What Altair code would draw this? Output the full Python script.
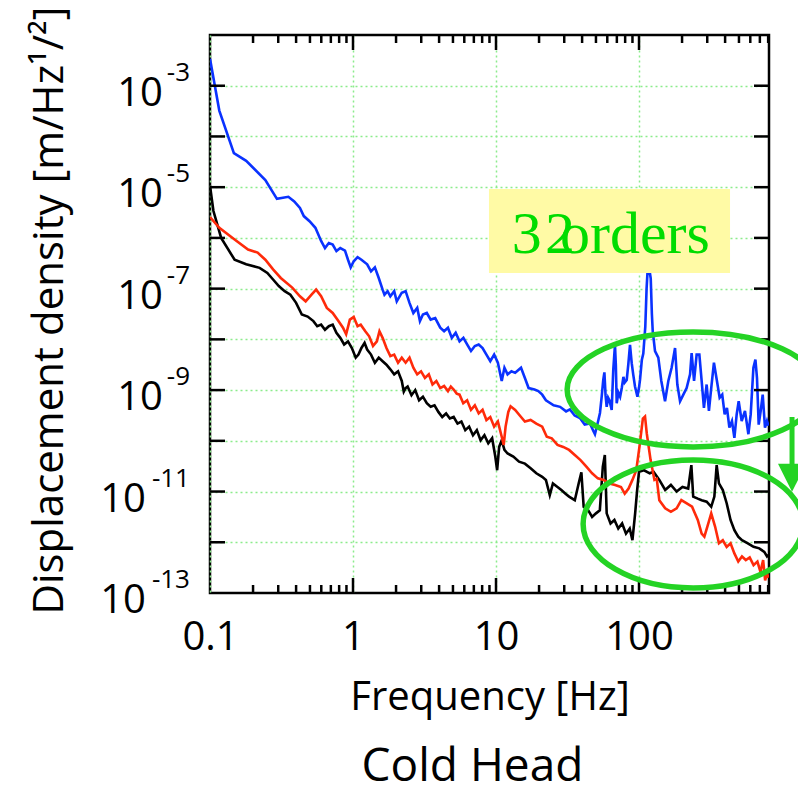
import altair as alt
import pandas as pd

# ---------------- values (log10 of Hz, log10 of m/Hz^1/2) ----------------
blue_logf = [-1.0, -0.935, -0.833, -0.747, -0.613, -0.532, -0.452, -0.411, -0.371, -0.344,
             -0.304, -0.263, -0.223, -0.196, -0.169, -0.142, -0.116, -0.089, -0.056, -0.035,
             -0.016, 0.005, 0.032, 0.059, 0.099, 0.126, 0.153, 0.180, 0.207, 0.220,
             0.242, 0.261, 0.288, 0.306, 0.341, 0.368, 0.395, 0.422, 0.449, 0.468,
             0.489, 0.516, 0.543, 0.575, 0.610, 0.637, 0.664, 0.691, 0.718, 0.745,
             0.772, 0.798, 0.825, 0.852, 0.879, 0.906, 0.933, 0.960, 0.987, 1.013,
             1.040, 1.059, 1.081, 1.108, 1.134, 1.175, 1.202, 1.228, 1.269, 1.296,
             1.323, 1.349, 1.403, 1.448, 1.490, 1.517, 1.550, 1.587, 1.620, 1.657,
             1.680, 1.692, 1.716, 1.727, 1.739, 1.750, 1.758, 1.766, 1.774, 1.784,
             1.793, 1.809, 1.820, 1.832, 1.838, 1.844, 1.856, 1.868, 1.880, 1.891,
             1.900, 1.914, 1.925, 1.937, 1.949, 1.960, 1.972, 1.989, 2.000, 2.007,
             2.020, 2.030, 2.044, 2.053, 2.062, 2.070, 2.082, 2.090, 2.096, 2.112,
             2.135, 2.156, 2.182, 2.205, 2.228, 2.252, 2.268, 2.287, 2.310, 2.333,
             2.357, 2.368, 2.385, 2.403, 2.422, 2.438, 2.454, 2.473, 2.489, 2.505,
             2.524, 2.545, 2.564, 2.582, 2.599, 2.615, 2.632, 2.650, 2.667, 2.683,
             2.697, 2.718, 2.741, 2.765, 2.781, 2.800, 2.814, 2.825, 2.837, 2.851,
             2.865, 2.881, 2.895, 2.905]
blue_logv = [-2.47, -3.49, -4.33, -4.48, -4.86, -5.23, -5.19, -5.28, -5.41, -5.57,
             -5.67, -5.80, -6.06, -6.20, -6.10, -6.13, -6.26, -6.20, -6.25, -6.43,
             -6.58, -6.46, -6.38, -6.43, -6.52, -6.66, -6.58, -6.79, -7.02, -7.12,
             -7.05, -7.15, -7.05, -7.25, -7.08, -7.05, -7.28, -7.48, -7.38, -7.64,
             -7.51, -7.48, -7.61, -7.58, -7.77, -7.84, -7.77, -7.97, -7.87, -8.04,
             -7.97, -8.10, -8.23, -8.13, -8.10, -8.17, -8.30, -8.43, -8.30, -8.46,
             -8.82, -8.56, -8.69, -8.63, -8.66, -8.56, -8.76, -8.96, -8.99, -9.02,
             -9.09, -9.20, -9.30, -9.33, -9.42, -9.38, -9.50, -9.55, -9.68, -9.66,
             -9.80, -9.87, -9.59, -9.45, -9.13, -8.80, -8.65, -9.10, -9.33, -9.15,
             -9.20, -9.39, -8.60, -8.11, -8.50, -9.26, -9.05, -9.13, -8.95, -8.74,
             -8.85, -8.80, -8.50, -8.11, -8.47, -8.70, -8.93, -9.13, -8.95, -8.80,
             -8.40, -8.28, -7.75, -7.00, -6.55, -6.58, -6.80, -7.50, -7.84, -8.23,
             -8.36, -8.82, -9.22, -8.82, -8.56, -8.17, -8.89, -9.22, -9.09, -8.96,
             -8.69, -8.27, -8.82, -8.30, -8.30, -8.82, -9.35, -8.89, -9.41, -8.96,
             -8.46, -8.82, -9.15, -9.09, -9.48, -9.35, -9.74, -9.61, -9.94, -9.48,
             -9.22, -9.61, -9.41, -9.87, -9.48, -8.56, -8.40, -8.76, -9.68, -9.41,
             -9.09, -9.74, -9.61, -9.70]

red_logf = [-1.0, -0.935, -0.828, -0.734, -0.667, -0.613, -0.559, -0.505, -0.425, -0.371,
            -0.331, -0.290, -0.258, -0.223, -0.183, -0.142, -0.102, -0.070, -0.048, -0.022,
            0.005, 0.032, 0.054, 0.086, 0.113, 0.140, 0.167, 0.185, 0.207, 0.234,
            0.261, 0.288, 0.315, 0.341, 0.368, 0.395, 0.422, 0.449, 0.476, 0.503,
            0.530, 0.556, 0.583, 0.610, 0.637, 0.664, 0.684, 0.704, 0.725, 0.745,
            0.771, 0.798, 0.825, 0.852, 0.879, 0.906, 0.933, 0.960, 0.987, 1.013,
            1.040, 1.054, 1.067, 1.086, 1.102, 1.134, 1.175, 1.202, 1.242, 1.282,
            1.323, 1.355, 1.390, 1.430, 1.470, 1.511, 1.551, 1.591, 1.632, 1.672,
            1.712, 1.753, 1.793, 1.833, 1.874, 1.900, 1.927, 1.954, 1.981, 2.003,
            2.027, 2.042, 2.054, 2.081, 2.108, 2.124, 2.142, 2.183, 2.223, 2.263,
            2.296, 2.331, 2.371, 2.411, 2.438, 2.457, 2.478, 2.505, 2.532, 2.559,
            2.586, 2.613, 2.640, 2.667, 2.694, 2.720, 2.747, 2.774, 2.801, 2.828,
            2.849, 2.868, 2.882, 2.895, 2.905]
red_logv = [-5.59, -5.80, -6.03, -6.23, -6.29, -6.43, -6.62, -6.79, -6.98, -7.15,
            -7.25, -7.12, -7.02, -7.15, -7.38, -7.48, -7.64, -7.77, -7.90, -7.61,
            -7.56, -7.74, -7.71, -7.84, -7.94, -8.13, -8.04, -7.84, -7.97, -8.17,
            -8.33, -8.30, -8.46, -8.36, -8.46, -8.36, -8.56, -8.69, -8.63, -8.76,
            -8.69, -8.89, -8.82, -8.96, -8.92, -9.02, -8.93, -8.99, -9.07, -9.09,
            -9.26, -9.20, -9.39, -9.30, -9.46, -9.39, -9.59, -9.53, -9.72, -9.62,
            -9.92, -10.08, -9.72, -9.43, -9.32, -9.39, -9.53, -9.62, -9.59, -9.66,
            -9.72, -9.92, -9.95, -10.08, -10.12, -10.18, -10.28, -10.38, -10.51, -10.64,
            -10.74, -10.77, -10.84, -10.87, -10.91, -11.04, -10.94, -10.77, -10.58, -10.12,
            -9.56, -9.52, -9.85, -10.38, -10.77, -10.75, -11.17, -11.33, -11.40, -11.33,
            -11.17, -11.23, -11.30, -11.56, -11.83, -11.89, -11.69, -11.43, -11.69, -12.02,
            -11.96, -12.09, -12.02, -12.22, -12.38, -12.28, -12.35, -12.30, -12.45, -12.38,
            -12.58, -12.35, -12.75, -12.61, -12.70]

black_logf = [-1.0, -0.976, -0.922, -0.828, -0.747, -0.653, -0.599, -0.559, -0.519, -0.478,
              -0.438, -0.398, -0.358, -0.317, -0.277, -0.250, -0.223, -0.196, -0.169, -0.142,
              -0.116, -0.089, -0.062, -0.035, -0.008, 0.019, 0.038, 0.059, 0.081, 0.099,
              0.126, 0.153, 0.180, 0.207, 0.234, 0.261, 0.288, 0.315, 0.341, 0.355,
              0.368, 0.382, 0.409, 0.435, 0.462, 0.489, 0.516, 0.543, 0.570, 0.597,
              0.624, 0.651, 0.677, 0.704, 0.731, 0.758, 0.785, 0.812, 0.839, 0.866,
              0.892, 0.919, 0.946, 0.973, 0.995, 1.008, 1.022, 1.040, 1.059, 1.081,
              1.121, 1.161, 1.202, 1.242, 1.282, 1.323, 1.349, 1.376, 1.398, 1.430,
              1.457, 1.484, 1.511, 1.551, 1.578, 1.597, 1.613, 1.645, 1.672, 1.699,
              1.726, 1.747, 1.761, 1.774, 1.801, 1.828, 1.855, 1.882, 1.909, 1.935,
              1.954, 1.973, 1.987, 2.000, 2.035, 2.075, 2.102, 2.142, 2.183, 2.223,
              2.263, 2.304, 2.344, 2.366, 2.379, 2.411, 2.438, 2.473, 2.505, 2.527,
              2.543, 2.559, 2.586, 2.613, 2.640, 2.667, 2.694, 2.720, 2.761, 2.801,
              2.841, 2.876, 2.895, 2.905]
black_logv = [-4.97, -5.47, -6.00, -6.43, -6.52, -6.59, -6.69, -6.82, -6.95, -7.05,
              -7.12, -7.28, -7.51, -7.55, -7.64, -7.74, -7.71, -7.81, -7.74, -7.71,
              -7.87, -7.97, -8.10, -8.04, -8.17, -8.36, -8.30, -8.17, -8.07, -8.20,
              -8.30, -8.46, -8.36, -8.43, -8.50, -8.59, -8.69, -8.63, -8.82, -9.03,
              -8.96, -8.93, -9.10, -9.00, -9.20, -9.13, -9.26, -9.33, -9.30, -9.43,
              -9.53, -9.46, -9.56, -9.53, -9.66, -9.62, -9.79, -9.72, -9.89, -9.79,
              -9.99, -9.89, -10.05, -9.95, -10.31, -10.58, -10.12, -9.99, -10.18, -10.25,
              -10.31, -10.41, -10.45, -10.54, -10.64, -10.71, -10.77, -11.07, -10.84, -10.91,
              -10.97, -11.04, -11.10, -11.17, -10.84, -10.62, -11.30, -11.37, -11.50, -11.43,
              -11.37, -10.51, -10.28, -11.43, -11.63, -11.56, -11.73, -11.63, -11.83, -11.73,
              -11.96, -11.43, -10.97, -10.61, -10.58, -10.64, -10.61, -10.77, -10.97, -10.87,
              -11.00, -10.91, -10.94, -10.48, -11.10, -11.14, -11.17, -11.20, -11.30, -11.10,
              -10.48, -10.84, -10.97, -11.23, -11.56, -11.76, -11.89, -11.96, -12.02, -12.09,
              -12.12, -12.19, -12.28, -12.25]

series_names = ["black", "red", "blue"]
series_colors = ["#000000", "#ff2a0a", "#0a32ff"]

x_label_values = [0.1, 1, 10, 100]
x_major_ticks = [1, 10, 100]
x_minor_ticks = [0.2, 0.3, 0.4, 0.5, 0.6, 0.7, 0.8, 0.9,
                 2, 3, 4, 5, 6, 7, 8, 9,
                 20, 30, 40, 50, 60, 70, 80, 90,
                 200, 300, 400, 500, 600, 700, 800]
y_decades = [1e-12, 1e-11, 1e-10, 1e-9, 1e-8, 1e-7, 1e-6, 1e-5, 1e-4, 1e-3]
y_label_exponents = [-3, -5, -7, -9, -11, -13]

box_f = [8.93, 433.0]
box_v = [9.2e-6, 2.04e-7]
note_texts = ["3", "2", "orders"]
note_f = [12.9, 22.0, 28.0]
note_v = [5.05e-7, 5.05e-7, 5.05e-7]
ellipse_f = [239.0, 239.0]
ellipse_v = [1.03e-9, 2.3e-12]
arrow_f = [1175.0]
arrow_v = [2.95e-10, 3.3e-11]
arrow_head_v = [1.86e-11]

# ---------------- styling ----------------
W, H = 559, 558
FONT = "Open Sans"
GREEN = "#24d324"
GRID = "#8cec8c"
xs = alt.Scale(type="log", domain=[0.1, 811], nice=False)
ys = alt.Scale(type="log", domain=[1e-13, 1e-2], nice=False)

x_axis = alt.Axis(values=x_label_values, format="~g", grid=True, gridColor=GRID,
                  gridDash=[2, 3], gridWidth=1.5, domain=False, ticks=False, tickSize=0,
                  labelFont=FONT, labelFontSize=40, labelColor="black", labelPadding=24,
                  labelFlush=False, labelOverlap=False,
                  title="Frequency [Hz]", titleFont=FONT, titleFontSize=40,
                  titleFontWeight="normal", titleColor="black", titlePadding=20)
y_axis = alt.Axis(values=y_decades, grid=True, gridColor=GRID, gridDash=[2, 3],
                  gridWidth=1.5, domain=False, ticks=False, tickSize=0, labels=False,
                  title="Displacement density [m/Hz¹/²]", titleFont=FONT, titleFontSize=42,
                  titleFontWeight="normal", titleColor="black", titleAngle=270,
                  titleX=-148, titleY=275, titleAlign="center", titleBaseline="alphabetic")


def X(field):
    return alt.X(field, scale=xs, axis=x_axis)


def Y(field):
    return alt.Y(field, scale=ys, axis=y_axis)


def line_frame(logf, logv, name):
    return pd.DataFrame({"freq": [10 ** a for a in logf],
                         "value": [10 ** b for b in logv],
                         "series": name})


frames = {
    "black": line_frame(black_logf, black_logv, "black"),
    "red": line_frame(red_logf, red_logv, "red"),
    "blue": line_frame(blue_logf, blue_logv, "blue"),
}

layers = []
for i, name in enumerate(series_names):
    layers.append(
        alt.Chart(frames[name]).mark_line(color=series_colors[i], strokeWidth=2.6, clip=True)
        .encode(x=X("freq:Q"), y=Y("value:Q"), order=alt.Order("freq:Q"))
    )

# inward tick marks on all four sides
xmaj = pd.DataFrame({"t": x_major_ticks})
xmin = pd.DataFrame({"t": x_minor_ticks})
ydec = pd.DataFrame({"t": y_decades, "side": ["L"] * len(y_decades)})
ydec_r = pd.DataFrame({"t": y_decades, "side": ["R"] * len(y_decades)})
for df, ln in ((xmaj, 15), (xmin, 8)):
    for yc in (H - ln / 2, ln / 2):
        layers.append(alt.Chart(df).mark_tick(color="black", thickness=2.5, size=ln,
                                              orient="vertical", opacity=1)
                      .encode(x=X("t:Q"), y=alt.value(yc)))
layers.append(alt.Chart(ydec).mark_rule(color="black", strokeWidth=2.5, opacity=1)
              .encode(y=Y("t:Q"), x=alt.value(0), x2=alt.value(15)))
layers.append(alt.Chart(ydec_r).mark_rule(color="black", strokeWidth=2.5, opacity=1)
              .encode(y=Y("t:Q"), x=alt.value(W - 15), x2=alt.value(W)))

# y tick labels as 10 with a raised exponent
ylab = pd.DataFrame({"exp": y_label_exponents,
                     "v": [10.0 ** e for e in y_label_exponents],
                     "etxt": [str(e) for e in y_label_exponents],
                     "base": ["10"] * len(y_label_exponents)})
layers.append(alt.Chart(ylab).mark_text(align="right", baseline="alphabetic", dy=-5,
                                        font=FONT, fontSize=26, color="black")
              .encode(y=Y("v:Q"), x=alt.value(-20), text="etxt:N"))
layers.append(alt.Chart(ylab).transform_filter("datum.exp > -10")
              .mark_text(align="right", baseline="alphabetic", dy=20,
                         font=FONT, fontSize=40, color="black")
              .encode(y=Y("v:Q"), x=alt.value(-47), text="base:N"))
layers.append(alt.Chart(ylab).transform_filter("datum.exp <= -10")
              .mark_text(align="right", baseline="alphabetic", dy=20,
                         font=FONT, fontSize=40, color="black")
              .encode(y=Y("v:Q"), x=alt.value(-64), text="base:N"))

# yellow note box and its text
box = pd.DataFrame({"f1": [box_f[0]], "f2": [box_f[1]], "v1": [box_v[0]], "v2": [box_v[1]]})
layers.append(alt.Chart(box).mark_rect(color="#fffaa5").encode(
    x=X("f1:Q"), x2="f2:Q", y=Y("v1:Q"), y2="v2:Q"))
notes = pd.DataFrame({"txt": note_texts, "f": note_f, "v": note_v})
layers.append(alt.Chart(notes).mark_text(align="left", baseline="alphabetic",
                                         font="Liberation Serif", fontSize=60, color="#00dc00")
              .encode(x=X("f:Q"), y=Y("v:Q"), text="txt:N"))

# green ellipses
ell1_path = ("M -1 0 C -1 -0.252 -0.5523 -0.456 0 -0.456 C 0.5523 -0.456 1 -0.252 1 0 "
             "C 1 0.252 0.5523 0.456 0 0.456 C -0.5523 0.456 -1 0.252 -1 0 Z")
ell2_path = ("M -1 0 C -1 -0.321 -0.5523 -0.582 0 -0.582 C 0.5523 -0.582 1 -0.321 1 0 "
             "C 1 0.321 0.5523 0.582 0 0.582 C -0.5523 0.582 -1 0.321 -1 0 Z")
ell = pd.DataFrame({"f": ellipse_f, "v": ellipse_v})
for k, (path, w) in enumerate(((ell1_path, 252), (ell2_path, 220))):
    layers.append(alt.Chart(ell.iloc[[k]]).mark_point(shape=path, size=w * w, filled=False,
                                                      strokeWidth=5.5, color=GREEN, opacity=1)
                  .encode(x=X("f:Q"), y=Y("v:Q")))

# green arrow between the ellipses
arrow = pd.DataFrame({"f": arrow_f, "v1": [arrow_v[0]], "v2": [arrow_v[1]]})
layers.append(alt.Chart(arrow).mark_rule(color=GREEN, strokeWidth=5).encode(
    x=X("f:Q"), y=Y("v1:Q"), y2="v2:Q"))
head = pd.DataFrame({"f": arrow_f, "v": arrow_head_v})
layers.append(alt.Chart(head).mark_point(shape="M -1 -1 L 1 -1 L 0 1 Z", size=784, filled=True,
                                         color=GREEN, opacity=1)
              .encode(x=X("f:Q"), y=Y("v:Q")))

chart = alt.layer(*layers).properties(
    width=W, height=H,
    background="white",
    title=alt.TitleParams(text="Cold Head", orient="bottom", anchor="middle", font=FONT,
                          fontSize=46, fontWeight="normal", color="black", offset=28, dx=-17),
    autosize=alt.AutoSizeParams(type="none"),
    padding={"left": 210, "top": 35, "right": 29, "bottom": 202},
).configure_view(stroke="black", strokeWidth=2.5)

chart.save("out.html", embed_options={"renderer": "svg", "actions": False})
